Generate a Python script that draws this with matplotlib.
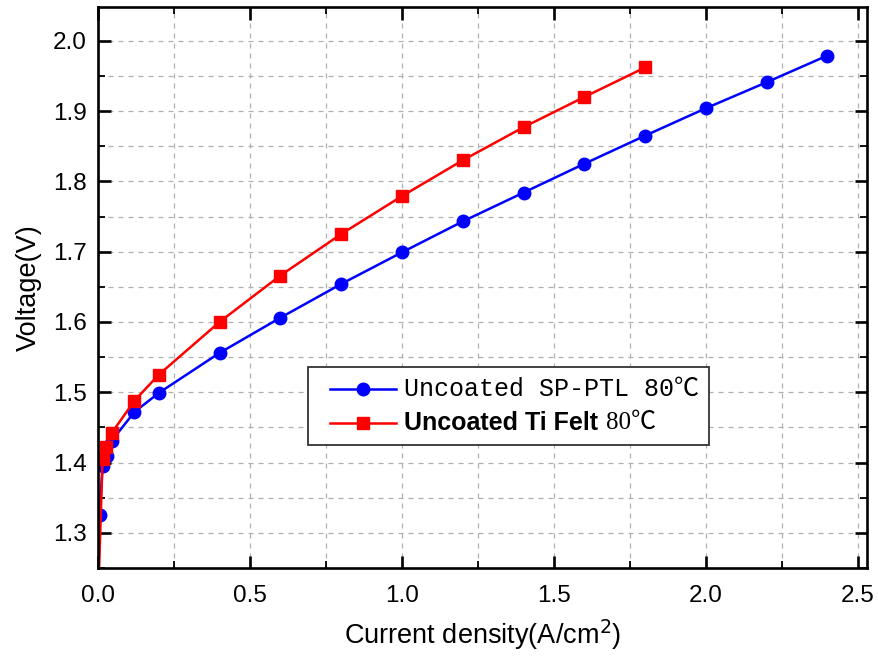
import matplotlib
matplotlib.use("Agg")
import matplotlib.pyplot as plt
from matplotlib.ticker import MultipleLocator
from matplotlib.offsetbox import AnchoredOffsetbox, HPacker, VPacker, TextArea, DrawingArea
from matplotlib.lines import Line2D

# Data
x_ptl = [0.0, 0.005, 0.015, 0.03, 0.045, 0.12, 0.2, 0.4, 0.6, 0.8, 1.0, 1.2, 1.4, 1.6, 1.8, 2.0, 2.2, 2.4]
v_ptl = [1.20, 1.326, 1.395, 1.41, 1.431, 1.472, 1.499, 1.556, 1.606, 1.654, 1.699, 1.743, 1.784, 1.825, 1.865, 1.904, 1.941, 1.979]
x_felt = [0.0, 0.015, 0.025, 0.045, 0.12, 0.2, 0.4, 0.6, 0.8, 1.0, 1.2, 1.4, 1.6, 1.8]
v_felt = [1.20, 1.405, 1.422, 1.442, 1.488, 1.525, 1.600, 1.666, 1.725, 1.779, 1.830, 1.877, 1.920, 1.962]

label_ptl = "Uncoated SP-PTL 80℃"
label_felt_bold = "Uncoated Ti Felt"
label_felt_tail = "80℃"

BLUE = '#0000ff'
RED = '#ff0000'

fig = plt.figure(figsize=(8.79, 6.63), dpi=100)
ax = fig.add_axes([0.1115, 0.1433, 0.8748, 0.8461])

ax.plot(x_ptl, v_ptl, color=BLUE, marker='o', markersize=9, lw=1.8)
ax.plot(x_felt, v_felt, color=RED, marker='s', markersize=8, lw=1.8)

ax.set_xlim(0, 2.53)
ax.set_ylim(1.25, 2.048)
ax.xaxis.set_minor_locator(MultipleLocator(0.25))
ax.yaxis.set_major_locator(MultipleLocator(0.1))
ax.yaxis.set_minor_locator(MultipleLocator(0.05))
ax.set_xticks([0, 0.5, 1.0, 1.5, 2.0, 2.5])
ax.set_xticklabels(['0.0', '0.5', '1.0', '1.5', '2.0', '2.5'])

ax.grid(True, which='both', color='#b0b0b0', linestyle=(0, (4, 4)), lw=0.9)
ax.set_axisbelow(True)
ax.tick_params(which='major', direction='in', length=9, width=1.9, top=True, right=True,
               labelsize=17.5, pad=8, colors='black')
ax.tick_params(axis='x', which='major', pad=12)
ax.tick_params(which='minor', direction='in', length=5, width=1.3, top=True, right=True)
for lab in ax.get_xticklabels() + ax.get_yticklabels():
    lab.set_fontfamily('Liberation Sans')
for s in ax.spines.values():
    s.set_linewidth(1.9)

ax.set_xlabel("Current density(A/cm$^2$)", fontsize=19.5, family='Liberation Sans', labelpad=8)
ax.set_ylabel("Voltage(V)", fontsize=19.5, family='Liberation Sans', labelpad=8)


def make_handle(color, marker, ms):
    da = DrawingArea(56, 14, 0, 0)
    da.add_artist(Line2D([9, 56], [7, 7], color=color, lw=1.8))
    da.add_artist(Line2D([32.5], [7], color=color, marker=marker, markersize=ms, lw=0))
    return da


FS = 18
row1 = HPacker(children=[make_handle(BLUE, 'o', 9),
                         TextArea(label_ptl, textprops=dict(size=FS, family=['Liberation Mono', 'Noto Sans CJK SC']))],
               align='center', pad=0, sep=6)
row2 = HPacker(children=[make_handle(RED, 's', 8),
                         TextArea(label_felt_bold, textprops=dict(size=FS, family='Liberation Sans', weight='bold')),
                         TextArea(label_felt_tail, textprops=dict(size=FS, family=['Liberation Serif', 'Noto Sans CJK SC']))],
               align='center', pad=0, sep=6)
box = VPacker(children=[row1, row2], align='left', pad=0, sep=7)
anch = AnchoredOffsetbox(loc='upper left', child=box, pad=0.4, borderpad=0, frameon=True,
                         bbox_to_anchor=(0.273, 0.358), bbox_transform=ax.transAxes,
                         prop=dict(size=FS))
anch.patch.set_edgecolor('#333333')
anch.patch.set_linewidth(1.3)
anch.patch.set_boxstyle('square', pad=0)
ax.add_artist(anch)

fig.savefig("out.png", dpi=100)
